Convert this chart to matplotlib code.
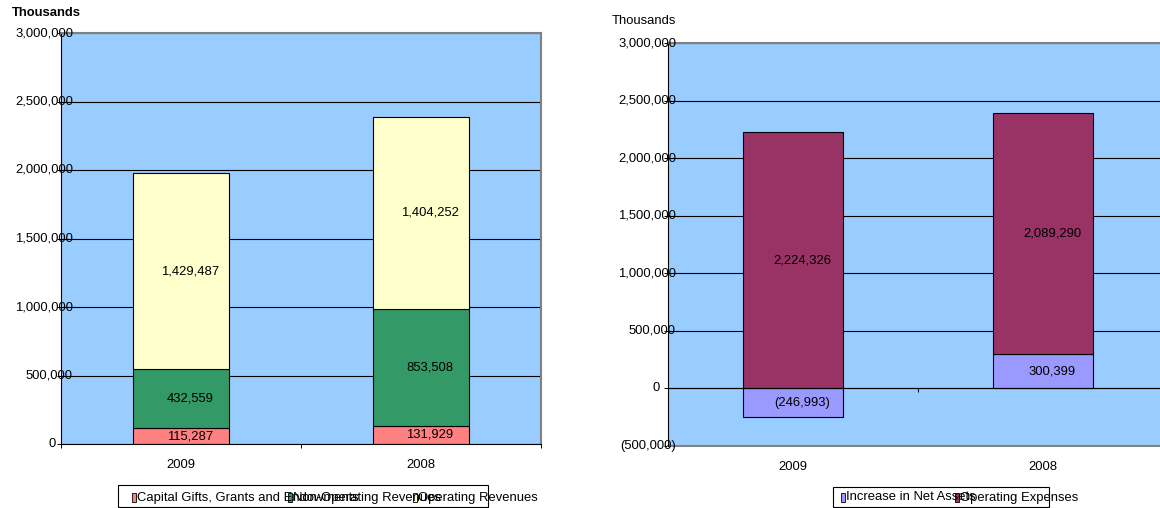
import numpy as np
import matplotlib
matplotlib.use('Agg')
import matplotlib.pyplot as plt
from matplotlib.patches import Rectangle
from matplotlib.transforms import ScaledTranslation

plt.rcParams['font.family'] = ['Liberation Sans', 'DejaVu Sans']
plt.rcParams['font.size'] = 9.4

# data (thousands)
years = ['2009', '2008']
capital_gifts = [115287, 131929]
non_operating = [432559, 853508]
operating_rev = [1429487, 1404252]
net_assets_change = [-246993, 300399]
operating_exp = [2224326, 2089290]

left_ticks = [0, 500000, 1000000, 1500000, 2000000, 2500000, 3000000]
right_ticks = [-500000, 0, 500000, 1000000, 1500000, 2000000, 2500000, 3000000]

left_legend = ['Capital Gifts, Grants and Endowments', 'Non-Operating Revenues', 'Operating Revenues']
right_legend = ['Increase in Net Assets', 'Operating Expenses']

W, H = 1160, 508
BG = '#99CCFF'


def fmt(v):
    return f'({abs(v):,})' if v < 0 else f'{v:,}'


def rect(l, t, r, b):
    return [l / W, 1 - b / H, (r - l) / W, (b - t) / H]


fig = plt.figure(figsize=(W / 100, H / 100), dpi=100)


def px(dx, dy=0):
    return ScaledTranslation(dx / 100, dy / 100, fig.dpi_scale_trans)


def style_axes(ax, ticks, ylim, zero_dx, long_dx):
    ax.set_facecolor(BG)
    ax.set_xlim(-0.5, 1.5)
    ax.set_ylim(*ylim)
    ax.set_axisbelow(True)
    ax.set_yticks(ticks)
    ax.set_yticklabels([])
    ax.yaxis.grid(True, color='black', lw=0.8)
    ax.tick_params(axis='y', direction='out', length=3, width=0.7, color='black')
    ax.set_xticks([-0.5, 0.5, 1.5])
    ax.set_xticklabels([])
    ax.tick_params(axis='x', direction='out', length=3, width=0.7, color='black')
    ax.spines['left'].set_color('black')
    ax.spines['top'].set_color('#808080')
    ax.spines['top'].set_linewidth(1.5)
    ax.spines['right'].set_color('#808080')
    ax.spines['right'].set_linewidth(1.5)
    for v in ticks:
        dx = zero_dx if v == 0 else long_dx
        ax.text(0, v, fmt(v), transform=ax.get_yaxis_transform() + px(dx),
                ha='right', va='center')
    for i, y in enumerate(years):
        ax.text(i, 0, y, transform=ax.get_xaxis_transform() + px(0, -21),
                ha='center', va='center')


def label_bars(ax, x, bottoms, vals):
    for xi, b, v in zip(x, bottoms, vals):
        ax.annotate(fmt(v), (xi, b + v / 2), xytext=(9, 0), textcoords='offset pixels',
                    ha='center', va='center')


x = np.arange(len(years))

# left chart: revenues
ax1 = fig.add_axes(rect(61, 33, 541, 444))
style_axes(ax1, left_ticks, (0, 3000000), -5, 12)
bottom = np.zeros(len(years))
for vals, color in [(capital_gifts, '#FF8080'), (non_operating, '#339966'), (operating_rev, '#FFFFCC')]:
    ax1.bar(x, vals, 0.4, bottom=bottom, color=color, edgecolor='black', lw=0.8)
    label_bars(ax1, x, bottom, vals)
    bottom = bottom + np.array(vals)

# right chart: expenses
ax2 = fig.add_axes(rect(668, 43, 1168, 446))
style_axes(ax2, right_ticks, (-500000, 3000000), -8, 8)
ax2.spines['bottom'].set_position(('data', 0))
ax2.spines['bottom'].set_color('black')
ax2.axhline(-500000, color='#808080', lw=1.5, clip_on=False)
base = np.maximum(net_assets_change, 0)
ax2.bar(x, net_assets_change, 0.4, color='#9999FF', edgecolor='black', lw=0.8)
label_bars(ax2, x, np.zeros(len(years)), net_assets_change)
ax2.bar(x, operating_exp, 0.4, bottom=base, color='#993366', edgecolor='black', lw=0.8)
label_bars(ax2, x, base, operating_exp)

fig.text(12 / W, 1 - 13 / H, 'Thousands', fontweight='bold', ha='left', va='center')
fig.text(612 / W, 1 - 21 / H, 'Thousands', ha='left', va='center')


# legends drawn as in the original (overlapping text)
def legend(box, marks, texts, colors):
    l, t, r, b = box
    fig.add_artist(Rectangle((l / W, 1 - b / H), (r - l) / W, (b - t) / H, transform=fig.transFigure,
                             facecolor='white', edgecolor='black', lw=0.8))
    for mx, txt, c in zip(marks, texts, colors):
        fig.add_artist(Rectangle((mx / W, 1 - 502 / H), 4 / W, 9 / H, transform=fig.transFigure,
                                 facecolor=c, edgecolor='black', lw=0.6))
        fig.text((mx + 5) / W, 1 - 497.5 / H, txt, ha='left', va='center')


legend((118, 485, 488, 507), [132, 288, 413], left_legend, ['#FF8080', '#339966', '#FFFFCC'])
legend((833, 487, 1049, 507), [841, 955], right_legend, ['#9999FF', '#993366'])

fig.savefig('out.png', dpi=100)
